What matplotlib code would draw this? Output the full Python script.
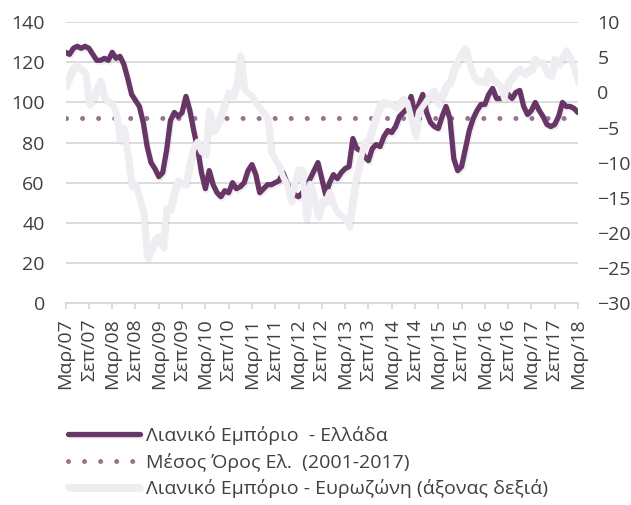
import numpy as np
import matplotlib
matplotlib.use('Agg')
import matplotlib.pyplot as plt
import matplotlib.patheffects as pe

plt.rcParams['font.family'] = ['Open Sans', 'DejaVu Sans']

# monthly, Mar/07 .. Mar/18
greece = [125, 124, 127, 128, 127, 128, 127, 124, 121, 121,
          122, 121, 125, 122, 123, 119, 112, 104, 101, 98,
          90, 78, 70, 67, 63, 65, 76, 91, 95, 93,
          95, 103, 96, 86, 77, 65, 57, 66, 59, 55,
          53, 56, 55, 60, 57, 58, 60, 66, 69, 64,
          55, 57, 59, 59, 60, 61, 65, 60, 56, 54,
          53, 55, 58, 62, 66, 70, 62, 54, 60, 64,
          62, 65, 67, 68, 82, 77, 76, 73, 71, 77,
          79, 78, 83, 86, 85, 88, 93, 95, 97, 103,
          94, 99, 104, 95, 90, 88, 87, 93, 98, 92,
          72, 66, 68, 77, 86, 92, 96, 99, 99, 104,
          107, 102, 102, 103, 104, 102, 105, 106, 98, 94,
          96, 100, 96, 93, 89, 88, 89, 93, 100, 98,
          98, 97, 95]

eurozone = [1, 2.4, 3.5, 3.9, 3.3, 3, -1.6, -1, 0.5, 1.7,
            -0.9, -1.2, -1.6, -3, -6.8, -5, -9, -13.3, -13, -15,
            -17, -23.5, -22.3, -21, -20.5, -22, -16.5, -16.5, -14, -12.5,
            -13, -13, -10, -8, -7, -8.5, -8.7, -2.6, -5.4, -4.5,
            -3.3, -1.6, 0, -0.4, 1, 5.3, 0.5, 0, -0.4, -1.5,
            -2.2, -2.8, -3.6, -8.5, -9.5, -10.4, -12, -13, -15.4, -13,
            -11, -11, -18, -13, -15, -17.6, -15.5, -15.5, -14.2, -16,
            -17, -17.5, -18, -19, -15, -11.5, -9.5, -7.1, -6.8, -5,
            -3.3, -1.8, -1.4, -1.5, -1.6, -2.1, -1.5, -0.9, -1.4, -3.5,
            -6.1, -2.8, -2, -1.2, -0.3, 0.3, -1.6, -0.4, 1, 1.5,
            3.4, 4.5, 5.5, 6.3, 4.3, 2.4, 1.8, 1.7, 1.5, 3.1,
            2, 1.5, 1, -0.9, 1.5, 2.2, 3, 3.4, 2.7, 3.1,
            3.4, 4.8, 4.3, 4.3, 2.7, 2.5, 4.8, 4.1, 5, 6,
            5, 3.4, 1.5]

greece_mean = 92  # 2001-2017

tick_labels = ['Μαρ/07', 'Σεπ/07', 'Μαρ/08', 'Σεπ/08', 'Μαρ/09', 'Σεπ/09',
               'Μαρ/10', 'Σεπ/10', 'Μαρ/11', 'Σεπ/11', 'Μαρ/12', 'Σεπ/12',
               'Μαρ/13', 'Σεπ/13', 'Μαρ/14', 'Σεπ/14', 'Μαρ/15', 'Σεπ/15',
               'Μαρ/16', 'Σεπ/16', 'Μαρ/17', 'Σεπ/17', 'Μαρ/18']

names = ['Λιανικό Εμπόριο  - Ελλάδα', 'Μέσος Όρος Ελ.  (2001-2017)',
         'Λιανικό Εμπόριο - Ευρωζώνη (άξονας δεξιά)']

dark = '#673666'
light = '#efedf2'
dots = '#987294'
txt = '#404040'
grid = '#d9d9d9'
fs = 14

x = np.arange(len(greece))

fig = plt.figure(figsize=(6.31, 5.05), dpi=100)
ax = fig.add_axes([0.104, 0.40, 0.812, 0.556])
ax2 = ax.twinx()

shadow = [pe.SimpleLineShadow(offset=(1, -1.5), shadow_color='#999999', alpha=0.15), pe.Normal()]

ax.set_axisbelow(True)
ax.yaxis.grid(True, color=grid, lw=1.3)
l1, = ax.plot(x, greece, color=dark, lw=3.8, solid_capstyle='round', path_effects=shadow, zorder=3)
l2, = ax.plot(x, [greece_mean] * len(x), color=dots, lw=3.6, ls=(0, (0.01, 3.2)),
              dash_capstyle='round', zorder=2)
l3, = ax2.plot(x, eurozone, color=light, lw=4.4, solid_capstyle='round', path_effects=shadow)

ax.set_xlim(0, len(x) - 1)
ax.set_ylim(0, 140)
ax.set_yticks(range(0, 141, 20))
ax2.set_ylim(-30, 10)
ax2.set_yticks(range(-30, 11, 5))

ax.set_xticks(x[::6])
ax.set_xticklabels(tick_labels, rotation=90)

for a in (ax, ax2):
    for s in a.spines.values():
        s.set_visible(False)
ax.spines['bottom'].set_visible(True)
ax.spines['bottom'].set_color(grid)
ax.spines['bottom'].set_linewidth(1.5)

ax.tick_params(axis='x', colors=grid, length=4, width=1.3, pad=7, labelcolor=txt, labelsize=fs)
ax.tick_params(axis='y', length=0, pad=15, labelcolor=txt, labelsize=fs)
ax2.tick_params(axis='y', length=0, pad=14, labelcolor=txt, labelsize=fs)

fig.legend([l1, l2, l3], names, loc='upper left', bbox_to_anchor=(0.108, 0.156),
           frameon=False, fontsize=fs, handlelength=3.7, handletextpad=0.3,
           labelspacing=0.38, borderpad=0, borderaxespad=0, labelcolor=txt)

fig.savefig('out.png', dpi=100)
